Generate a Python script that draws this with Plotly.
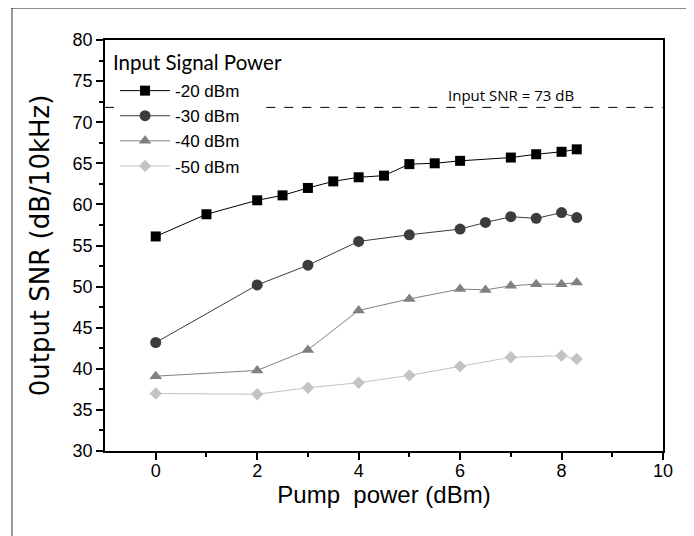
import plotly.graph_objects as go

# Data
x_20 = [0, 1, 2, 2.5, 3, 3.5, 4, 4.5, 5, 5.5, 6, 7, 7.5, 8, 8.3]
y_20 = [56.1, 58.8, 60.5, 61.1, 62.0, 62.8, 63.3, 63.5, 64.9, 65.0, 65.3, 65.7, 66.1, 66.4, 66.7]

x_30 = [0, 2, 3, 4, 5, 6, 6.5, 7, 7.5, 8, 8.3]
y_30 = [43.2, 50.2, 52.6, 55.5, 56.3, 57.0, 57.8, 58.5, 58.3, 59.0, 58.4]

x_40 = [0, 2, 3, 4, 5, 6, 6.5, 7, 7.5, 8, 8.3]
y_40 = [39.1, 39.8, 42.3, 47.1, 48.5, 49.7, 49.6, 50.1, 50.3, 50.3, 50.5]

x_50 = [0, 2, 3, 4, 5, 6, 7, 8, 8.3]
y_50 = [37.0, 36.9, 37.7, 38.3, 39.2, 40.3, 41.4, 41.6, 41.2]

input_snr_level = 71.8
series_names = ["-20 dBm", "-30 dBm", "-40 dBm", "-50 dBm"]
legend_title = "Input Signal Power"
x_ticks = [0, 2, 4, 6, 8, 10]
x_minor = [1, 3, 5, 7, 9]
y_ticks = [30, 35, 40, 45, 50, 55, 60, 65, 70, 75, 80]
y_minor = [32.5, 37.5, 42.5, 47.5, 52.5, 57.5, 62.5, 67.5, 72.5, 77.5]

FONT = "Liberation Sans"

fig = go.Figure()
styles = [
    (x_20, y_20, "square", "#000000", 10),
    (x_30, y_30, "circle", "#3c3c3c", 11),
    (x_40, y_40, "triangle-up", "#808080", 11),
    (x_50, y_50, "diamond", "#c3c3c3", 9.5),
]
for i, (xs, ys, sym, col, sz) in enumerate(styles):
    fig.add_trace(go.Scatter(
        x=xs, y=ys, mode="lines+markers", name=series_names[i],
        legendgroup=f"g{i}",
        line=dict(color=col, width=1),
        marker=dict(symbol=sym, color=col, size=sz, line=dict(width=0)),
    ))

# Reference dashed line (interrupted behind the legend entries)
for xa, xb in [(-1, -0.66), (2.18, 10)]:
    fig.add_shape(type="line", xref="x", yref="y", x0=xa, x1=xb,
                  y0=input_snr_level, y1=input_snr_level,
                  line=dict(color="black", width=1, dash="dash"), layer="below")
fig.add_annotation(x=7.0, y=input_snr_level, xref="x", yref="y",
                   text="Input SNR = 73 dB", showarrow=False,
                   yanchor="bottom", yshift=0,
                   font=dict(family="Open Sans", size=15, color="black"))

# Legend heading
fig.add_annotation(x=0.0108, y=0.9465, xref="paper", yref="paper",
                   text=legend_title, showarrow=False,
                   xanchor="left", yanchor="middle",
                   font=dict(family="Lato", size=20.5, color="black"))

# Outer frame lines (top and left)
fig.add_shape(type="line", xref="paper", yref="paper", x0=-0.168, x1=1.07,
              y0=1.0779, y1=1.0779, line=dict(color="#666666", width=1.5))
fig.add_shape(type="line", xref="paper", yref="paper", x0=-0.1667, x1=-0.1667,
              y0=1.0779, y1=-0.23, line=dict(color="#333333", width=1))

axis_font = dict(family=FONT, size=18, color="black")
fig.update_xaxes(
    range=[-1, 10], tickvals=x_ticks, ticks="outside", ticklen=7,
    tickwidth=1.5, tickcolor="black", ticklabelstandoff=-4,
    minor=dict(tickvals=x_minor, ticks="outside", ticklen=4, tickwidth=1.5, tickcolor="black"),
    showline=True, linecolor="black", linewidth=1.5, mirror=True,
    showgrid=False, zeroline=False, tickfont=axis_font,
    title=dict(text="Pump  power (dBm)", font=dict(family=FONT, size=24, color="black"), standoff=2),
)
fig.update_yaxes(
    range=[30, 80], tickvals=y_ticks, ticks="outside", ticklen=7,
    tickwidth=1.5, tickcolor="black",
    minor=dict(tickvals=y_minor, ticks="outside", ticklen=4, tickwidth=1.5, tickcolor="black"),
    showline=True, linecolor="black", linewidth=1.5, mirror=True,
    showgrid=False, zeroline=False, tickfont=axis_font,
    title=dict(text="0utput SNR (dB/10kHz)", font=dict(family="DejaVu Sans", size=26, color="black"), standoff=16),
)

fig.update_layout(
    width=686, height=528,
    margin=dict(l=97, r=31, t=32, b=85, autoexpand=False),
    paper_bgcolor="white", plot_bgcolor="white",
    showlegend=True,
    legend=dict(
        x=0.018, y=0.9195, xanchor="left", yanchor="top",
        bgcolor="rgba(255,255,255,0)",
        font=dict(family=FONT, size=17, color="black"),
        tracegroupgap=0, itemwidth=50,
    ),
)

fig.write_html("out.html")
